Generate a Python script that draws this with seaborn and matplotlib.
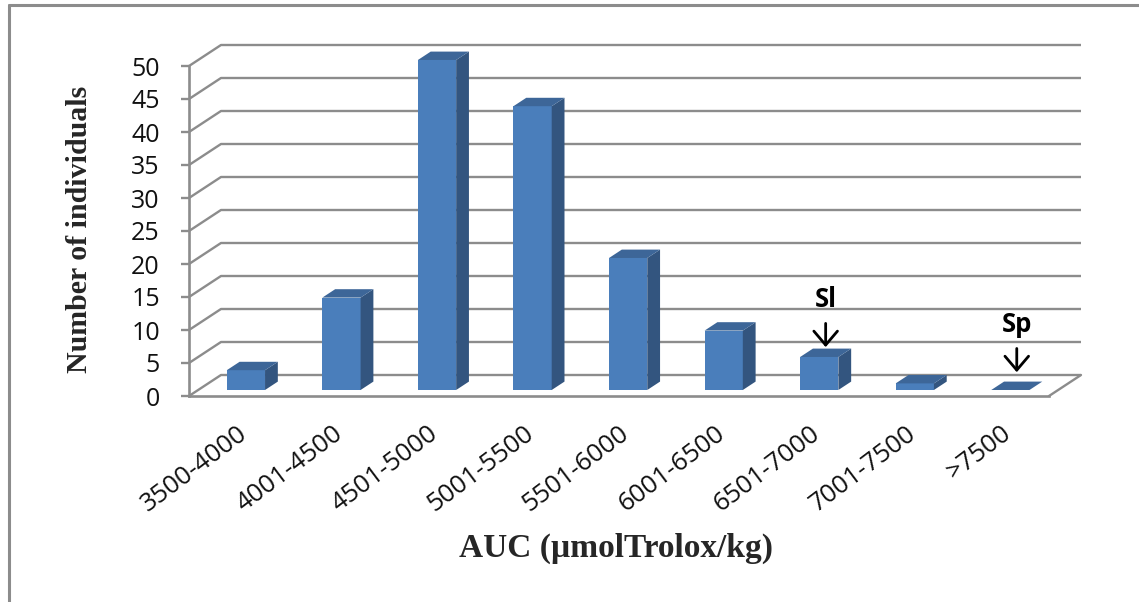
import numpy as np
import pandas as pd
import matplotlib
matplotlib.use("Agg")
import matplotlib.pyplot as plt
import seaborn as sns
from matplotlib.patches import Polygon
from matplotlib.lines import Line2D

# ---------------- data ----------------
categories = ["3500-4000", "4001-4500", "4501-5000", "5001-5500", "5501-6000",
              "6001-6500", "6501-7000", "7001-7500", ">7500"]
counts = [3, 14, 50, 43, 20, 9, 5, 1, 0]
y_ticks = [0, 5, 10, 15, 20, 25, 30, 35, 40, 45, 50]
ann_labels = ["Sl", "Sp"]
ann_categories = ["6501-7000", ">7500"]
ann_tip_levels = [7.4, 3.6]
x_title = "AUC (µmolTrolox/kg)"
y_title = "Number of individuals"

# ---------------- style ----------------
FRONT = "#4a7ebb"
SIDE = "#33557f"
TOP = "#3d6698"
GRID = "#8c8c8c"

sns.set_style("white")
plt.rcParams["font.family"] = ["Open Sans", "DejaVu Sans"]

W, H = 1139, 602
fig = plt.figure(figsize=(W / 100, H / 100), dpi=100)
ax = fig.add_axes([189 / W, 206 / H, 860 / W, 330 / H])

df = pd.DataFrame({"cat": categories, "n": counts})
sns.barplot(data=df, x="cat", y="n", color=FRONT, saturation=1, width=0.4,
            ax=ax, zorder=4, linewidth=0)
ax.set_xlim(-0.5, len(categories) - 0.5)
ax.set_ylim(y_ticks[0], y_ticks[-1])

# 3-D pseudo depth (in data units)
DX, DY = 32 / 95.6, 21 / 6.6
d = 0.286           # depth of bar front face
sx, sy = 0.4 * DX, 0.4 * DY   # bar depth

xmax = len(categories) - 0.5
# back wall + left wall gridlines
for v in y_ticks:
    ax.plot([-0.5, -0.5 + DX, xmax + DX], [v, v + DY, v + DY], color=GRID,
            lw=1.7, clip_on=False, zorder=1, solid_capstyle="butt")
# right floor edge
ax.plot([xmax, xmax + DX], [0, DY], color=GRID, lw=1.7, clip_on=False, zorder=1)

for p in ax.patches:
    x0 = p.get_x() + d * DX
    yb = d * DY
    w = p.get_width()
    h = p.get_height()
    p.set_x(x0)
    p.set_y(yb)
    p.set_clip_on(False)
    x1 = x0 + w
    yt = yb + h
    side = Polygon([(x1, yb), (x1 + sx, yb + sy), (x1 + sx, yt + sy), (x1, yt)],
                   closed=True, facecolor=SIDE, edgecolor="none", zorder=4, clip_on=False)
    top = Polygon([(x0, yt), (x0 + sx, yt + sy), (x1 + sx, yt + sy), (x1, yt)],
                  closed=True, facecolor=TOP, edgecolor="none", zorder=5, clip_on=False)
    ax.add_patch(side)
    ax.add_patch(top)

# spines
for s in ["top", "right"]:
    ax.spines[s].set_visible(False)
for s in ["left", "bottom"]:
    ax.spines[s].set_color(GRID)
    ax.spines[s].set_linewidth(1.9)
    ax.spines[s].set_zorder(2)

ax.set_yticks(y_ticks)
ax.tick_params(axis="y", length=6, width=1.7, color=GRID, pad=15,
               labelsize=18, labelcolor="#111111", left=True)
ax.tick_params(axis="x", length=0, pad=18, labelsize=18.5, labelcolor="#111111")
for lab in ax.get_xticklabels():
    lab.set_rotation(37)
    lab.set_ha("right")
    lab.set_va("top")
    lab.set_rotation_mode("anchor")

ax.set_xlabel(x_title, fontfamily=["Liberation Serif", "DejaVu Serif"],
              fontweight="bold", fontsize=24, va="center")
ax.xaxis.set_label_coords((616 - 189) / 860, (396 - 548) / 330)
ax.set_ylabel(y_title, fontfamily=["Liberation Serif", "DejaVu Serif"],
              fontweight="bold", fontsize=21.5, va="center", rotation=90)
ax.yaxis.set_label_coords((80 - 189) / 860, (396 - 229) / 330)

# annotations
for lab, cat, tip in zip(ann_labels, ann_categories, ann_tip_levels):
    i = categories.index(cat)
    xa = i + d * DX + sx / 2
    tail = tip + 3.6
    ax.annotate("", xy=(xa, tip), xytext=(xa, tail),
                arrowprops=dict(arrowstyle="->,head_length=1.0,head_width=0.85",
                                lw=2.0, color="black", shrinkA=0, shrinkB=0),
                annotation_clip=False, zorder=6)
    ax.text(xa, tail + 2.5, lab, ha="center", va="baseline", fontsize=18.5,
            fontweight="bold", color="black", zorder=6)

# outer frame (top and left edges)
fig.add_artist(Line2D([9 / W, 1], [1 - 5 / H, 1 - 5 / H], transform=fig.transFigure,
                      color="#8c8c8c", lw=2.2))
fig.add_artist(Line2D([9 / W, 9 / W], [0, 1 - 5 / H], transform=fig.transFigure,
                      color="#8c8c8c", lw=2.2))

fig.savefig("out.png", dpi=100)
